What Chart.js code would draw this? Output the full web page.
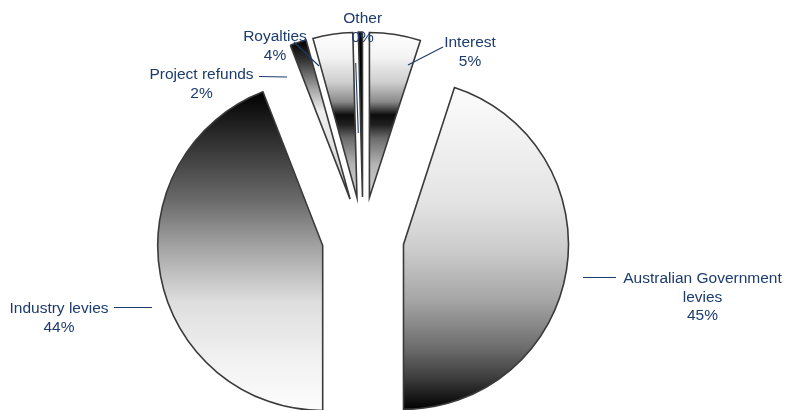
<!DOCTYPE html>
<html>
<head>
<meta charset="utf-8">
<script src="https://cdn.jsdelivr.net/npm/chart.js@4/dist/chart.umd.min.js"></script>
<style>
  html, body { margin: 0; padding: 0; background: #ffffff; }
  #wrap { width: 791px; height: 410px; }
</style>
</head>
<body>
<div id="wrap"><canvas id="c" width="791" height="410"></canvas></div>
<script>
// ---- data ----
const categories = ['Interest', 'Australian Government levies', 'Industry levies', 'Project refunds', 'Royalties', 'Other'];
const shareValues = [5.0, 45.0, 44.1, 1.6, 3.9, 0.4];

// ---- styles / layout (kept apart from the data) ----
const PIE_RADIUS = 165;
const EXPLODE = 41;
const TEXT_COLOR = '#1C3B6E';
const FONT = '15.5px "Liberation Sans", Arial, sans-serif';
const LINE_H = 18.8;
const WRAP_W = 175;

const gradientStops = [
  // Interest
  [[0, '#ffffff'], [0.15, '#f3f3f3'], [0.3, '#cfcfcf'], [0.42, '#8a8a8a'], [0.5, '#0c0c0c'], [0.56, '#202020'], [0.64, '#6a6a6a'], [0.8, '#b4b4b4'], [1, '#d4d4d4']],
  // Australian Government levies
  [[0, '#fcfcfc'], [0.35, '#e4e4e4'], [0.5, '#cdcdcd'], [0.66, '#a6a6a6'], [0.81, '#6c6c6c'], [0.9, '#3e3e3e'], [1, '#000000']],
  // Industry levies
  [[0, '#000000'], [0.18, '#383838'], [0.34, '#6a6a6a'], [0.5, '#a8a8a8'], [0.66, '#dedede'], [0.85, '#f2f2f2'], [1, '#fcfcfc']],
  // Project refunds
  [[0, '#000000'], [0.12, '#303030'], [0.3, '#a0a0a0'], [0.45, '#f0f0f0'], [0.7, '#e0e0e0'], [1, '#c8c8c8']],
  // Royalties
  [[0, '#ffffff'], [0.15, '#f3f3f3'], [0.3, '#cfcfcf'], [0.42, '#8a8a8a'], [0.5, '#0c0c0c'], [0.56, '#202020'], [0.64, '#6a6a6a'], [0.8, '#b4b4b4'], [1, '#d4d4d4']],
  // Other
  [[0, '#000000'], [1, '#000000']]
];

// label placement: centre x, first baseline y, leader line from -> to
const labelLayout = [
  { x: 470,   y: 46.7,  line: [[443, 47], [408, 65]] },
  { x: 702.5, y: 282.7, line: [[583, 277.5], [616, 277.5]] },
  { x: 59,    y: 313.3, line: [[114, 307.5], [152, 307.5]] },
  { x: 201.5, y: 79,    line: [[259, 76.5], [287, 77]] },
  { x: 275,   y: 40.7,  line: [[294, 42], [319, 66]] },
  { x: 362.7, y: 23.3,  line: [[355.7, 63], [358.3, 133]] }
];

function sliceAngles(i) {
  const total = shareValues.reduce((a, b) => a + b, 0);
  let before = 0;
  for (let k = 0; k < i; k++) before += shareValues[k];
  const a0 = before / total * Math.PI * 2 - Math.PI / 2;
  const a1 = (before + shareValues[i]) / total * Math.PI * 2 - Math.PI / 2;
  return [a0, a1];
}

function sliceGradient(context) {
  const chart = context.chart;
  const area = chart.chartArea;
  const i = context.dataIndex;
  if (!area || i === undefined) return '#888888';
  const cy = (area.top + area.bottom) / 2;
  const [a0, a1] = sliceAngles(i);
  const ys = [cy, cy + PIE_RADIUS * Math.sin(a0), cy + PIE_RADIUS * Math.sin(a1)];
  const within = (a) => {
    for (let t = a - Math.PI * 4; t <= a1; t += Math.PI * 2) { if (t >= a0 && t <= a1) return true; }
    return false;
  };
  if (within(Math.PI / 2)) ys.push(cy + PIE_RADIUS);
  if (within(-Math.PI / 2)) ys.push(cy - PIE_RADIUS);
  const minY = Math.min(...ys), maxY = Math.max(...ys);
  const g = chart.ctx.createLinearGradient(0, minY, 0, maxY);
  gradientStops[i].forEach(([p, c]) => g.addColorStop(p, c));
  return g;
}

const explodePlugin = {
  id: 'explodeSlices',
  beforeDatasetDraw(chart, args) {
    const ctx = chart.ctx;
    args.meta.data.forEach(arc => {
      const mid = (arc.startAngle + arc.endAngle) / 2;
      ctx.save();
      ctx.translate(Math.cos(mid) * EXPLODE, Math.sin(mid) * EXPLODE);
      arc.draw(ctx, chart.chartArea);
      ctx.restore();
    });
    return false;
  }
};

function wrapText(ctx, text, maxW) {
  const words = text.split(' ');
  const lines = [];
  let cur = '';
  words.forEach(w => {
    const test = cur ? cur + ' ' + w : w;
    if (ctx.measureText(test).width > maxW && cur) { lines.push(cur); cur = w; }
    else cur = test;
  });
  if (cur) lines.push(cur);
  return lines;
}

const labelPlugin = {
  id: 'sliceLabels',
  afterDatasetsDraw(chart) {
    const ctx = chart.ctx;
    const values = chart.data.datasets[0].data;
    const total = values.reduce((a, b) => a + b, 0);
    ctx.save();
    ctx.font = FONT;
    ctx.fillStyle = TEXT_COLOR;
    ctx.strokeStyle = TEXT_COLOR;
    ctx.lineWidth = 1.1;
    ctx.textAlign = 'center';
    ctx.textBaseline = 'alphabetic';
    chart.data.labels.forEach((name, i) => {
      const lay = labelLayout[i];
      const pct = Math.round(values[i] / total * 100) + '%';
      const lines = wrapText(ctx, name, WRAP_W).concat([pct]);
      ctx.beginPath();
      ctx.moveTo(lay.line[0][0], lay.line[0][1]);
      ctx.lineTo(lay.line[1][0], lay.line[1][1]);
      ctx.stroke();
      lines.forEach((ln, k) => ctx.fillText(ln, lay.x, lay.y + k * LINE_H));
    });
    ctx.restore();
  }
};

new Chart(document.getElementById('c'), {
  type: 'pie',
  data: {
    labels: categories,
    datasets: [{
      data: shareValues,
      radius: PIE_RADIUS,
      backgroundColor: sliceGradient,
      borderColor: '#3a3a3a',
      borderWidth: 1.6,
      borderJoinStyle: 'miter'
    }]
  },
  options: {
    responsive: false,
    animation: false,
    rotation: 0,
    layout: { padding: { left: 0, right: 65, top: 66, bottom: 0 } },
    plugins: {
      legend: { display: false },
      tooltip: { enabled: false }
    },
    events: []
  },
  plugins: [explodePlugin, labelPlugin]
});
</script>
</body>
</html>
